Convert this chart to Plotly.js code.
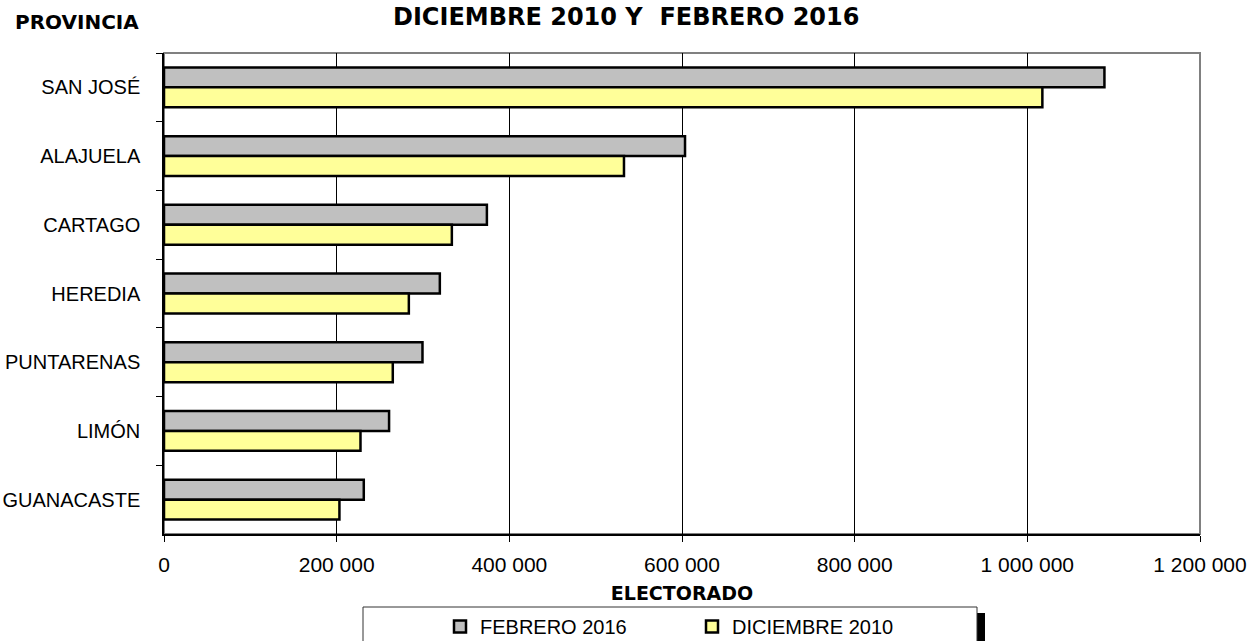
<!DOCTYPE html>
<html>
<head>
<meta charset="utf-8">
<script src="https://cdn.plot.ly/plotly-3.0.1.min.js"></script>
<style>html,body{margin:0;padding:0;background:#fff;}#chart{width:1249px;height:641px;}</style>
</head>
<body>
<div id="chart"></div>
<script>
const provincias = ["SAN JOSÉ", "ALAJUELA", "CARTAGO", "HEREDIA", "PUNTARENAS", "LIMÓN", "GUANACASTE"];
const febrero2016 = [1089300, 603500, 374000, 319500, 299400, 260700, 231400];
const diciembre2010 = [1017400, 532800, 333400, 283600, 265000, 227600, 203200];
const xTicks = [0, 200000, 400000, 600000, 800000, 1000000, 1200000];
const xTickText = ["0", "200 000", "400 000", "600 000", "800 000", "1 000 000", "1 200 000"];

const L = 164, R = 1200, T = 53, B = 534, W = 1249, H = 641;
const px = v => (v - L) / (R - L);
const py = v => (B - v) / (B - T);

const traces = [
  {type: "bar", orientation: "h", name: "FEBRERO 2016", y: provincias, x: febrero2016,
   marker: {color: "#C0C0C0", line: {color: "#000000", width: 2.5}}, hoverinfo: "x+y"},
  {type: "bar", orientation: "h", name: "DICIEMBRE 2010", y: provincias, x: diciembre2010,
   marker: {color: "#FFFF99", line: {color: "#000000", width: 2.5}}, hoverinfo: "x+y"}
];

const layout = {
  width: W, height: H,
  margin: {l: L, r: W - R, t: T, b: H - B, pad: 0, autoexpand: false},
  paper_bgcolor: "#ffffff", plot_bgcolor: "#ffffff",
  font: {family: "Liberation Sans, Arial, sans-serif", size: 21, color: "#000"},
  barmode: "group", bargap: 0.42, bargroupgap: 0,
  showlegend: true,
  legend: {orientation: "h", x: px(440), xanchor: "left", y: py(607), yanchor: "top",
           bgcolor: "rgba(0,0,0,0)", borderwidth: 0, entrywidth: 207, entrywidthmode: "pixels",
           font: {size: 20, family: "Liberation Sans, Arial, sans-serif"}, traceorder: "normal"},
  xaxis: {range: [0, 1200000], tickvals: xTicks, ticktext: xTickText, showgrid: true,
          gridcolor: "#000000", gridwidth: 1, zeroline: false, showline: true, linecolor: "#000",
          linewidth: 1.5, ticks: "outside", ticklen: 6, tickcolor: "#000", tickwidth: 1,
          ticklabelstandoff: 5, automargin: false,
          title: {text: "<b>ELECTORADO</b>", font: {size: 19, family: "DejaVu Sans, sans-serif"}, standoff: 12},
          fixedrange: true},
  yaxis: {autorange: "reversed", type: "category", showgrid: false, zeroline: false, showline: true,
          linecolor: "#000", linewidth: 1.5, ticks: "outside", ticklen: 6, tickcolor: "#000",
          tickfont: {size: 20}, tickson: "boundaries", ticklabelstandoff: 18, automargin: false,
          fixedrange: true},
  shapes: [
    {type: "rect", xref: "paper", yref: "paper", x0: 0, x1: 1, y0: 0, y1: 1,
     line: {color: "#808080", width: 2}, layer: "below"},
    {type: "rect", xref: "paper", yref: "paper", x0: px(977), x1: px(985), y0: py(613), y1: py(660),
     fillcolor: "#000", line: {width: 0}},
    {type: "rect", xref: "paper", yref: "paper", x0: px(363), x1: px(977), y0: py(607), y1: py(660),
     fillcolor: "#fff", line: {color: "#333", width: 1}}
  ],
  annotations: [
    {text: "<b>DICIEMBRE 2010 Y  FEBRERO 2016</b>", xref: "paper", yref: "paper", x: px(626), y: py(17),
     xanchor: "center", yanchor: "middle", showarrow: false,
     font: {family: "DejaVu Sans, sans-serif", size: 24, color: "#000"}},
    {text: "<b>PROVINCIA</b>", xref: "paper", yref: "paper", x: px(77), y: py(22),
     xanchor: "center", yanchor: "middle", showarrow: false,
     font: {family: "DejaVu Sans, sans-serif", size: 20, color: "#000"}}
  ]
};

Plotly.newPlot("chart", traces, layout, {displayModeBar: false, responsive: false});
</script>
</body>
</html>
